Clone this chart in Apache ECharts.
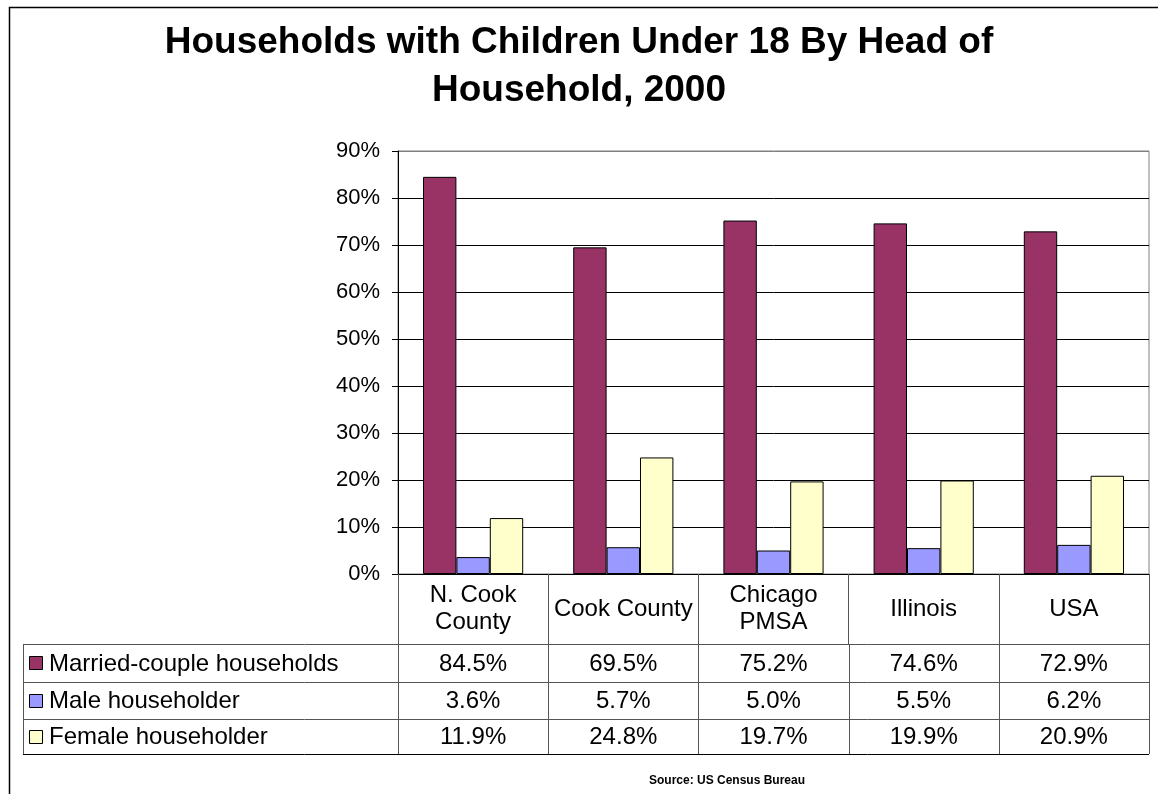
<!DOCTYPE html>
<html>
<head>
<meta charset="utf-8">
<script src="https://cdn.jsdelivr.net/npm/echarts@6/dist/echarts.min.js"></script>
<style>
html,body{margin:0;padding:0;background:#fff;}
#chart{width:1158px;height:794px;}
</style>
</head>
<body>
<div id="chart"></div>
<script>
const titleLines = ['Households with Children Under 18 By Head of', 'Household, 2000'];
const categories = ['N. Cook\nCounty', 'Cook County', 'Chicago\nPMSA', 'Illinois', 'USA'];
const seriesNames = ['Married-couple households', 'Male householder', 'Female householder'];
const married = [84.5, 69.5, 75.2, 74.6, 72.9];
const male = [3.6, 5.7, 5.0, 5.5, 6.2];
const female = [11.9, 24.8, 19.7, 19.9, 20.9];
const yTicks = [0, 10, 20, 30, 40, 50, 60, 70, 80, 90];
const sourceText = 'Source: US Census Bureau';

const seriesValues = [married, male, female];
const colors = ['#993366', '#9999FF', '#FFFFCC'];
const FONT = 'Arial, "Liberation Sans", sans-serif';

const G = { left: 398, right: 9, top: 151, bottom: 220 };
const axisY = 794 - G.bottom;
const headerBottom = 644;
const rowLines = [644, 682, 719, 754];
const tableLeft = 23;

const chart = echarts.init(document.getElementById('chart'), null, { renderer: 'canvas' });

const splitColors = yTicks.map((t, i) => i === yTicks.length - 1 ? '#808080' : '#000000');

const option = {
  backgroundColor: '#ffffff',
  animation: false,
  textStyle: { fontFamily: FONT },
  title: {
    text: titleLines.join('\n'),
    left: 'center',
    top: 14,
    textStyle: { fontFamily: FONT, fontSize: 37, fontWeight: 'bold', color: '#000', lineHeight: 48 }
  },
  grid: {
    left: G.left, right: G.right, top: G.top, bottom: G.bottom,
    show: true, borderColor: '#808080', borderWidth: 1, backgroundColor: 'transparent'
  },
  xAxis: {
    type: 'category',
    data: categories,
    boundaryGap: true,
    axisLine: { show: true, lineStyle: { color: '#000', width: 1 } },
    axisTick: { show: true, alignWithLabel: false, length: headerBottom - axisY, lineStyle: { color: '#555', width: 1 } },
    axisLabel: {
      color: '#000', fontSize: 24, fontFamily: FONT, lineHeight: 27,
      margin: (headerBottom - axisY) / 2, verticalAlign: 'middle', align: 'center', interval: 0
    },
    splitLine: { show: false }
  },
  yAxis: {
    type: 'value',
    min: yTicks[0],
    max: yTicks[yTicks.length - 1],
    interval: yTicks[1] - yTicks[0],
    axisLine: { show: true, lineStyle: { color: '#000', width: 1 } },
    axisTick: { show: true, inside: false, length: 6, lineStyle: { color: '#000' } },
    axisLabel: { color: '#000', fontSize: 22, fontFamily: FONT, margin: 18, formatter: '{value}%' },
    splitLine: { show: true, lineStyle: { color: splitColors, width: 1 } }
  },
  series: seriesNames.map((name, i) => ({
    name: name,
    type: 'bar',
    data: seriesValues[i],
    barGap: '0%',
    barCategoryGap: '33.3%',
    itemStyle: { color: colors[i], borderColor: '#000', borderWidth: 1 }
  }))
};

chart.setOption(option);

// Build the data table beneath the axis using the axis scale for column positions
const n = categories.length;
const bounds = [];
const c0 = chart.convertToPixel({ xAxisIndex: 0 }, 0);
const c1 = chart.convertToPixel({ xAxisIndex: 0 }, 1);
const cw = c1 - c0;
for (let i = 0; i <= n; i++) bounds.push(c0 - cw / 2 + i * cw);
const centers = [];
for (let i = 0; i < n; i++) centers.push(chart.convertToPixel({ xAxisIndex: 0 }, i));

const lineStyle = { stroke: '#555', lineWidth: 1 };
const graphics = [];

// outer chart border
graphics.push({ type: 'rect', shape: { x: 9.5, y: 7.5, width: 1300, height: 1000 }, style: { fill: null, stroke: '#000', lineWidth: 1.5 }, silent: true, z: 0 });

// horizontal table lines
rowLines.forEach((y, i) => {
  graphics.push({ type: 'line', shape: { x1: tableLeft, y1: y + 0.5, x2: bounds[n], y2: y + 0.5 }, style: { stroke: i === rowLines.length - 1 ? '#000' : '#555', lineWidth: 1 }, silent: true, z: 10 });
});
// vertical table lines
graphics.push({ type: 'line', shape: { x1: tableLeft + 0.5, y1: rowLines[0], x2: tableLeft + 0.5, y2: rowLines[rowLines.length - 1] }, style: lineStyle, silent: true, z: 10 });
for (let i = 0; i <= n; i++) {
  const x = Math.round(bounds[i]) + 0.5;
  graphics.push({ type: 'line', shape: { x1: x, y1: rowLines[0], x2: x, y2: rowLines[rowLines.length - 1] }, style: lineStyle, silent: true, z: 10 });
}

// rows: legend swatch, name, values
for (let r = 0; r < seriesNames.length; r++) {
  const yMid = (rowLines[r] + rowLines[r + 1]) / 2;
  graphics.push({ type: 'rect', shape: { x: 29.5, y: Math.round(yMid - 7) + 0.5, width: 13, height: 13 }, style: { fill: colors[r], stroke: '#000', lineWidth: 1 }, silent: true, z: 11 });
  graphics.push({ type: 'text', x: 49, y: yMid + 1, style: { text: seriesNames[r], fill: '#000', font: '24px ' + FONT, textVerticalAlign: 'middle', textAlign: 'left' }, silent: true, z: 11 });
  for (let i = 0; i < n; i++) {
    graphics.push({ type: 'text', x: centers[i], y: yMid + 1, style: { text: seriesValues[r][i].toFixed(1) + '%', fill: '#000', font: '24px ' + FONT, textVerticalAlign: 'middle', textAlign: 'center' }, silent: true, z: 11 });
  }
}

// source note
graphics.push({ type: 'text', x: 727, y: 781, style: { text: sourceText, fill: '#000', font: 'bold 12px ' + FONT, textVerticalAlign: 'middle', textAlign: 'center' }, silent: true, z: 11 });

chart.setOption({ graphic: graphics });
</script>
</body>
</html>
